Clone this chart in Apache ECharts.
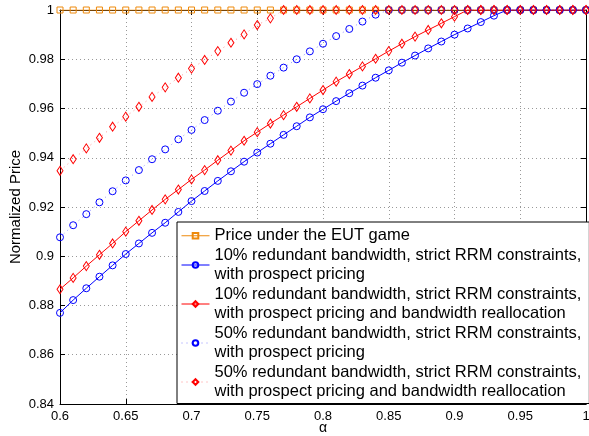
<!DOCTYPE html>
<html><head><meta charset="utf-8">
<script src="https://cdn.jsdelivr.net/npm/echarts@6/dist/echarts.min.js"></script>
<style>html,body{margin:0;padding:0;background:#fff}#c{width:589px;height:436px}</style>
</head><body><div id="c"></div>
<script>
var alpha = [0.60,0.61,0.62,0.63,0.64,0.65,0.66,0.67,0.68,0.69,0.70,0.71,0.72,0.73,0.74,0.75,0.76,0.77,0.78,0.79,0.80,0.81,0.82,0.83,0.84,0.85,0.86,0.87,0.88,0.89,0.90,0.91,0.92,0.93,0.94,0.95,0.96,0.97,0.98,0.99,1.00];
var eutPrice = [1,1,1,1,1,1,1,1,1,1,1,1,1,1,1,1,1,1,1,1,1,1,1,1,1,1,1,1,1,1,1,1,1,1,1,1,1,1,1,1,1];
var red10Prospect = [0.877,0.8822,0.887,0.8917,0.8963,0.9009,0.9052,0.9095,0.9136,0.918,0.9224,0.9265,0.9306,0.9345,0.9384,0.9421,0.9457,0.9493,0.9528,0.9564,0.9597,0.963,0.9662,0.9693,0.9725,0.9755,0.9786,0.9815,0.9844,0.9872,0.99,0.9925,0.9951,0.9977,1,1,1,1,1,1,1];
var red10Realloc = [0.8866,0.8912,0.896,0.9006,0.9052,0.910,0.9144,0.9188,0.9231,0.9271,0.9312,0.935,0.939,0.9429,0.9469,0.9504,0.9539,0.9573,0.9607,0.9641,0.9675,0.9709,0.974,0.9771,0.9802,0.9833,0.9863,0.9892,0.9919,0.9946,0.9973,1,1,1,1,1,1,1,1,1,1];
var red50Prospect = [0.9077,0.9126,0.9171,0.9219,0.9264,0.9308,0.935,0.9394,0.9434,0.9475,0.9513,0.9553,0.9591,0.9628,0.9664,0.9699,0.9733,0.9766,0.98,0.9832,0.9863,0.9894,0.9923,0.9953,0.9981,1,1,1,1,1,1,1,1,1,1,1,1,1,1,1,1];
var red50Realloc = [0.9347,0.9394,0.9438,0.9481,0.9526,0.9567,0.9607,0.9647,0.9686,0.9725,0.9762,0.9797,0.9833,0.9867,0.9901,0.9939,0.9966,1,1,1,1,1,1,1,1,1,1,1,1,1,1,1,1,1,1,1,1,1,1,1,1];
var seriesNames = [
  'Price under the EUT game',
  '10% redundant bandwidth, strict RRM constraints,\nwith prospect pricing',
  '10% redundant bandwidth, strict RRM constraints,\nwith prospect pricing and bandwidth reallocation',
  '50% redundant bandwidth, strict RRM constraints,\nwith prospect pricing',
  '50% redundant bandwidth, strict RRM constraints,\nwith prospect pricing and bandwidth reallocation'
];
var xTicks = {min:0.6, max:1, interval:0.05};
var yTicks = {min:0.84, max:1, interval:0.02};

function pairs(ys){ return alpha.map(function(a,i){ return [a, ys[i]]; }); }
var ORANGE = '#ee8a0c', BLUE = '#0000ff', RED = '#ff0000';
function mk(name, ys, color, symbol, size, dotted){
  return {
    name: name, type: 'line', data: pairs(ys), symbol: symbol, symbolSize: size,
    showSymbol: true, animation: false,
    lineStyle: dotted ? {color: color, width: 1, type: [1,4], opacity: 0.45} : {color: color, width: 1},
    itemStyle: {color: 'rgba(255,255,255,0)', borderColor: color, borderWidth: 1},
    emphasis: {disabled: true}
  };
}
var fontFam = 'Liberation Sans, Arial, Helvetica, sans-serif';
var axisCommon = {
  type: 'value',
  axisLine: {show: true, lineStyle: {color: '#000', width: 1}},
  axisTick: {show: true, inside: true, length: 5, lineStyle: {color: '#000'}},
  axisLabel: {color: '#000', fontSize: 13, fontFamily: fontFam}
};
var chart = echarts.init(document.getElementById('c'), null, {renderer: 'canvas'});
chart.setOption({
  animation: false,
  backgroundColor: '#fff',
  grid: {left: 60, right: 3, top: 10, bottom: 32, containLabel: false, outerBoundsMode: 'none'},
  xAxis: [
    Object.assign({}, axisCommon, {min: xTicks.min, max: xTicks.max, interval: xTicks.interval, position: 'bottom',
      name: 'α', nameLocation: 'middle', nameGap: 17, nameMoveOverlap: false,
      nameTextStyle: {color: '#000', fontSize: 14, fontFamily: fontFam},
      axisLabel: {color: '#000', fontSize: 13, fontFamily: fontFam, margin: 6},
      splitLine: {show: true, lineStyle: {color: '#999', type: [1,3], width: 1}}}),
    Object.assign({}, axisCommon, {min: xTicks.min, max: xTicks.max, interval: xTicks.interval, position: 'top',
      axisLabel: {show: false}, splitLine: {show: false}})
  ],
  yAxis: [
    Object.assign({}, axisCommon, {min: yTicks.min, max: yTicks.max, interval: yTicks.interval, position: 'left',
      name: 'Normalized Price', nameLocation: 'middle', nameGap: 37, nameMoveOverlap: false,
      nameTextStyle: {color: '#000', fontSize: 15, fontFamily: fontFam},
      axisLabel: {color: '#000', fontSize: 13, fontFamily: fontFam, margin: 6},
      splitLine: {show: true, lineStyle: {color: '#999', type: [1,3], width: 1}}}),
    Object.assign({}, axisCommon, {min: yTicks.min, max: yTicks.max, interval: yTicks.interval, position: 'right',
      axisLabel: {show: false}, splitLine: {show: false}})
  ],
  legend: {
    orient: 'vertical', left: 177, top: 222,
    backgroundColor: '#fff', borderColor: '#000', borderWidth: 1,
    padding: [4, 8, 2, 4],
    itemGap: 0, itemWidth: 28, itemHeight: 7,
    lineStyle: {width: 1},
    textStyle: {color: '#000', fontSize: 16.5, fontFamily: fontFam, lineHeight: 19.5},
    data: seriesNames,
    selectedMode: false
  },
  series: [
    mk(seriesNames[0], eutPrice, ORANGE, 'rect', 6, false),
    mk(seriesNames[1], red10Prospect, BLUE, 'circle', 7, false),
    mk(seriesNames[2], red10Realloc, RED, 'diamond', [6,9], false),
    mk(seriesNames[3], red50Prospect, BLUE, 'circle', 7, true),
    mk(seriesNames[4], red50Realloc, RED, 'diamond', [6,9], true)
  ]
});
</script></body></html>
